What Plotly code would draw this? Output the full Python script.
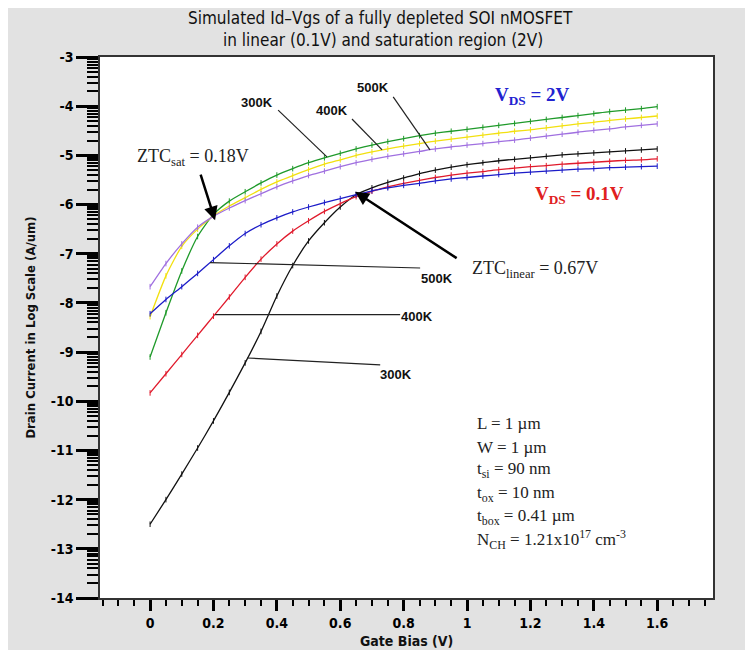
import numpy as np
import plotly.graph_objects as go

# ---------------- data ----------------
vgs = [round(0.05 * i, 2) for i in range(33)]  # 0 .. 1.6 V

# Vds = 2 V (saturation)
sat_300K = [-9.10, -8.20, -7.35, -6.65, -6.20, -5.93, -5.74, -5.56, -5.40, -5.27, -5.15,
            -5.05, -4.96, -4.87, -4.79, -4.72, -4.66, -4.60, -4.55, -4.51, -4.47, -4.43,
            -4.39, -4.35, -4.31, -4.27, -4.23, -4.19, -4.15, -4.11, -4.08, -4.05, -4.01]
sat_400K = [-8.28, -7.45, -6.85, -6.50, -6.23, -6.03, -5.86, -5.69, -5.54, -5.41, -5.29,
            -5.18, -5.09, -5.00, -4.93, -4.87, -4.81, -4.76, -4.71, -4.67, -4.63, -4.59,
            -4.55, -4.51, -4.48, -4.44, -4.40, -4.36, -4.33, -4.29, -4.26, -4.23, -4.20]
sat_500K = [-7.67, -7.20, -6.80, -6.46, -6.24, -6.07, -5.92, -5.78, -5.64, -5.52, -5.41,
            -5.32, -5.23, -5.15, -5.08, -5.02, -4.97, -4.92, -4.87, -4.83, -4.79, -4.76,
            -4.72, -4.69, -4.65, -4.61, -4.57, -4.53, -4.49, -4.46, -4.42, -4.39, -4.36]
# Vds = 0.1 V (linear)
lin_300K = [-12.50, -12.00, -11.48, -10.95, -10.40, -9.82, -9.22, -8.58, -7.86, -7.24, -6.74,
            -6.37, -6.05, -5.80, -5.66, -5.55, -5.46, -5.37, -5.30, -5.24, -5.19, -5.15,
            -5.11, -5.08, -5.05, -5.02, -4.99, -4.97, -4.95, -4.93, -4.91, -4.89, -4.87]
lin_400K = [-9.83, -9.44, -9.05, -8.66, -8.27, -7.88, -7.48, -7.11, -6.80, -6.54, -6.33,
            -6.14, -5.98, -5.84, -5.73, -5.64, -5.57, -5.51, -5.45, -5.40, -5.36, -5.33,
            -5.29, -5.26, -5.23, -5.21, -5.18, -5.16, -5.14, -5.12, -5.10, -5.09, -5.07]
lin_500K = [-8.22, -7.93, -7.67, -7.40, -7.12, -6.84, -6.59, -6.41, -6.27, -6.15, -6.05,
            -5.96, -5.88, -5.80, -5.72, -5.66, -5.61, -5.57, -5.52, -5.48, -5.45, -5.42,
            -5.39, -5.36, -5.34, -5.32, -5.30, -5.28, -5.27, -5.25, -5.24, -5.23, -5.22]

x_tickvals = [0, 0.2, 0.4, 0.6, 0.8, 1.0, 1.2, 1.4, 1.6]
x_ticktext = ["0", "0.2", "0.4", "0.6", "0.8", "1", "1.2", "1.4", "1.6"]
y_tickvals = [-3, -4, -5, -6, -7, -8, -9, -10, -11, -12, -13, -14]
y_ticktext = ["-3", "-4", "-5", "-6", "-7", "-8", "-9", "-10", "-11", "-12", "-13", "-14"]

title_lines = ["Simulated Id\u2013Vgs of a fully depleted SOI nMOSFET",
               "in linear (0.1V) and saturation region (2V)"]
param_lines = ["L = 1 \u00b5m", "W = 1 \u00b5m", "t<sub>si</sub> = 90 nm", "t<sub>ox</sub> = 10 nm",
               "t<sub>box</sub> = 0.41 \u00b5m", "N<sub>CH</sub> = 1.21x10<sup>17</sup> cm<sup>-3</sup>"]

# ---------------- figure ----------------
NARROW = "Liberation Sans Narrow, DejaVu Sans Condensed, Arial Narrow, sans-serif"
SANS = "Liberation Sans, Arial, sans-serif"
SERIF = "Liberation Serif, Times New Roman, serif"

series = [
    (sat_300K, "#1f9a2a"),
    (sat_400K, "#f2e010"),
    (sat_500K, "#a070e0"),
    (lin_300K, "#111111"),
    (lin_400K, "#e01a2c"),
    (lin_500K, "#1c1cc8"),
]

fig = go.Figure()
for ys, col in series:
    fig.add_trace(go.Scatter(
        x=vgs, y=ys, mode="lines+markers",
        line=dict(color=col, width=1.3, shape="spline", smoothing=0.6),
        marker=dict(symbol="line-ns-open", size=4, color=col, line=dict(color=col, width=1)),
        showlegend=False, hoverinfo="skip"))

# minor log-style ticks on y
minor_y = [d + np.log10(k) for d in range(-14, -3) for k in range(2, 10)]

fig.update_xaxes(
    range=[-0.158, 1.776], tickmode="array", tickvals=x_tickvals, ticktext=x_ticktext,
    ticks="outside", ticklen=11, tickwidth=2.5, tickcolor="black",
    tickfont=dict(family=NARROW, size=14, color="black", weight="bold"),
    showline=True, linecolor="#333333", linewidth=1.5, mirror=True,
    showgrid=False, zeroline=False,
    minor=dict(ticks="outside", tick0=0, dtick=0.05, ticklen=6, tickwidth=1.5,
               tickcolor="black", showgrid=False))
fig.update_yaxes(
    range=[-14, -3], tickmode="array", tickvals=y_tickvals, ticktext=y_ticktext,
    ticks="outside", ticklen=22, tickwidth=3, tickcolor="black",
    tickfont=dict(family=NARROW, size=14, color="black", weight="bold"),
    showline=True, linecolor="#333333", linewidth=1.5, mirror=True,
    showgrid=False, zeroline=False,
    minor=dict(ticks="outside", tickmode="array", tickvals=minor_y, ticklen=11,
               tickwidth=1.5, tickcolor="black", showgrid=False))

shapes = []
# leader lines for temperature labels
leaders = [
    (0.404, -4.08, 0.558, -5.03),
    (0.637, -4.26, 0.732, -4.89),
    (0.767, -3.81, 0.883, -4.89),
    (0.189, -7.18, 0.852, -7.29),
    (0.205, -8.24, 0.789, -8.24),
    (0.306, -9.12, 0.726, -9.26),
]
for x0, y0, x1, y1 in leaders:
    shapes.append(dict(type="line", xref="x", yref="y", x0=x0, y0=y0, x1=x1, y1=y1,
                       line=dict(color="#222222", width=1.2)))
fig.update_layout(shapes=shapes)

C = dict(xanchor="center", yanchor="middle", showarrow=False)
ann = []
# title
ann.append(dict(text=title_lines[0], xref="paper", yref="paper", x=0.457, y=1.0725,
                font=dict(family=NARROW, size=17, color="#111"), **C))
ann.append(dict(text=title_lines[1], xref="paper", yref="paper", x=0.462, y=1.031,
                font=dict(family=NARROW, size=17, color="#111"), **C))
# axis titles
ann.append(dict(text="Gate Bias (V)", xref="paper", yref="paper", x=0.5, y=-0.0795,
                font=dict(family=NARROW, size=14, color="#111", weight="bold"), **C))
ann.append(dict(text="Drain Current in Log Scale (A/um)", xref="paper", yref="paper",
                x=-0.114, y=0.5, textangle=-90,
                font=dict(family=NARROW, size=13, color="#111", weight="bold"), **C))
# temperature labels
for txt, x, y in [("300K", 0.338, -3.915), ("400K", 0.574, -4.08), ("500K", 0.703, -3.63),
                  ("500K", 0.905, -7.51), ("400K", 0.842, -8.28), ("300K", 0.776, -9.46)]:
    ann.append(dict(text=txt, x=x, y=y,
                    font=dict(family=SANS, size=13, color="#111", weight="bold"), **C))
# Vds labels
ann.append(dict(text="V<sub>DS</sub> = 2V", x=1.208, y=-3.80,
                font=dict(family=SERIF, size=19, color="#2222d0", weight="bold"), **C))
ann.append(dict(text="V<sub>DS</sub> = 0.1V", x=1.356, y=-5.80,
                font=dict(family=SERIF, size=19, color="#e02020", weight="bold"), **C))
# ZTC labels
ann.append(dict(text="ZTC<sub>sat</sub> = 0.18V", x=0.136, y=-5.05,
                font=dict(family=SERIF, size=18, color="#222"), **C))
ann.append(dict(text="ZTC<sub>linear</sub> = 0.67V", x=1.215, y=-7.33,
                font=dict(family=SERIF, size=18, color="#222"), **C))
# arrows
ann.append(dict(text="", x=0.205, y=-6.32, ax=0.158, ay=-5.36, axref="x", ayref="y",
                showarrow=True, arrowhead=2, arrowsize=1.1, arrowwidth=2.5, arrowcolor="black"))
ann.append(dict(text="", x=0.647, y=-5.74, ax=0.972, ay=-7.11, axref="x", ayref="y",
                showarrow=True, arrowhead=2, arrowsize=1.1, arrowwidth=2.5, arrowcolor="black"))
# parameter block
for i, txt in enumerate(param_lines):
    ann.append(dict(text=txt, x=1.025, y=-10.46 - 0.472 * i, xanchor="left", yanchor="middle",
                    showarrow=False, font=dict(family=SERIF, size=17, color="#222")))

fig.update_layout(
    annotations=ann,
    width=737, height=642,
    margin=dict(l=92, r=32, t=49, b=52),
    paper_bgcolor="#e2e2e2", plot_bgcolor="white",
)

fig.write_html("out.html")
